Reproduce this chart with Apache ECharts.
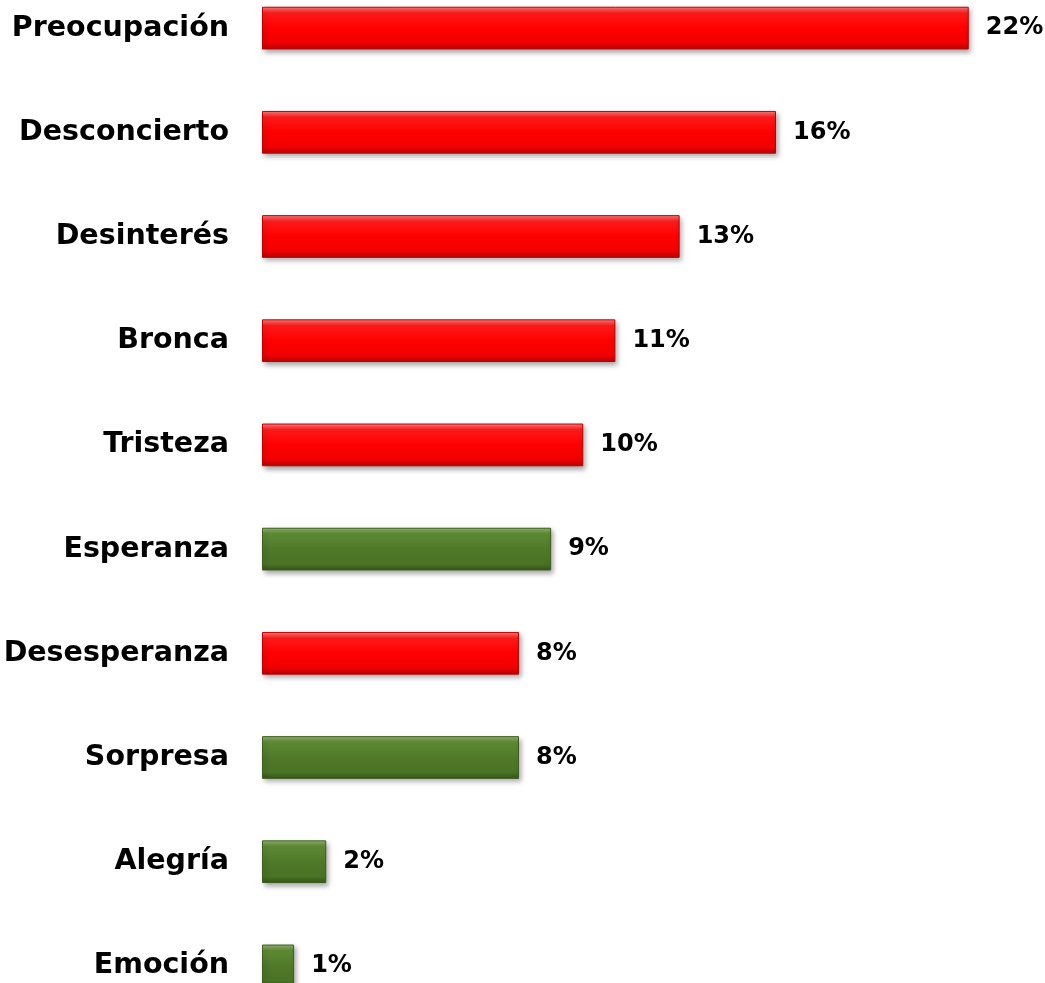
<!DOCTYPE html>
<html>
<head>
<meta charset="utf-8">
<script src="https://cdn.jsdelivr.net/npm/echarts@6/dist/echarts.min.js"></script>
<style>
html,body{margin:0;padding:0;background:#fff;overflow:hidden;width:1045px;height:983px;}
#chart{width:1045px;height:1042px;margin-top:-24px;}
</style>
</head>
<body>
<div id="chart"></div>
<script>
const categories = ['Preocupación','Desconcierto','Desinterés','Bronca','Tristeza','Esperanza','Desesperanza','Sorpresa','Alegría','Emoción'];
const values = [22, 16, 13, 11, 10, 9, 8, 8, 2, 1];
const tone = ['neg','neg','neg','neg','neg','pos','neg','pos','pos','pos'];

const styles = {
  neg: {
    color: new echarts.graphic.LinearGradient(0,0,0,1,[
      {offset:0, color:'#ff8080'},
      {offset:0.15, color:'#ff1a1a'},
      {offset:0.5, color:'#ff0000'},
      {offset:0.85, color:'#f00000'},
      {offset:1, color:'#b00000'}
    ]),
    borderColor:'#c00000'
  },
  pos: {
    color: new echarts.graphic.LinearGradient(0,0,0,1,[
      {offset:0, color:'#93b86e'},
      {offset:0.15, color:'#5e8a34'},
      {offset:0.5, color:'#4f7a28'},
      {offset:0.85, color:'#4a7325'},
      {offset:1, color:'#34531a'}
    ]),
    borderColor:'#3d5e1e'
  }
};

const chart = echarts.init(document.getElementById('chart'));
chart.setOption({
  animation:false,
  backgroundColor:'#ffffff',
  grid:{left:262, right:12, top:0, bottom:0, containLabel:false},
  xAxis:{type:'value', min:0, max:24, show:false},
  yAxis:{
    type:'category', data:categories, inverse:true,
    axisLine:{show:false}, axisTick:{show:false}, splitLine:{show:false},
    axisLabel:{margin:33, color:'#000', fontWeight:'bold', fontSize:28.5, fontFamily:'DejaVu Sans'}
  },
  series:[{
    type:'bar',
    barWidth:'41%',
    data: values.map((v,i)=>({
      value:v,
      itemStyle:{
        color:styles[tone[i]].color,
        borderColor:styles[tone[i]].borderColor,
        borderWidth:1,
        shadowColor:'rgba(0,0,0,0.35)',
        shadowBlur:5,
        shadowOffsetX:2,
        shadowOffsetY:3
      }
    })),
    label:{
      show:true, position:'right', distance:17,
      formatter:p=>p.value+'%',
      color:'#000', fontWeight:'bold', fontSize:24, fontFamily:'DejaVu Sans'
    }
  }]
});
</script>
</body>
</html>
